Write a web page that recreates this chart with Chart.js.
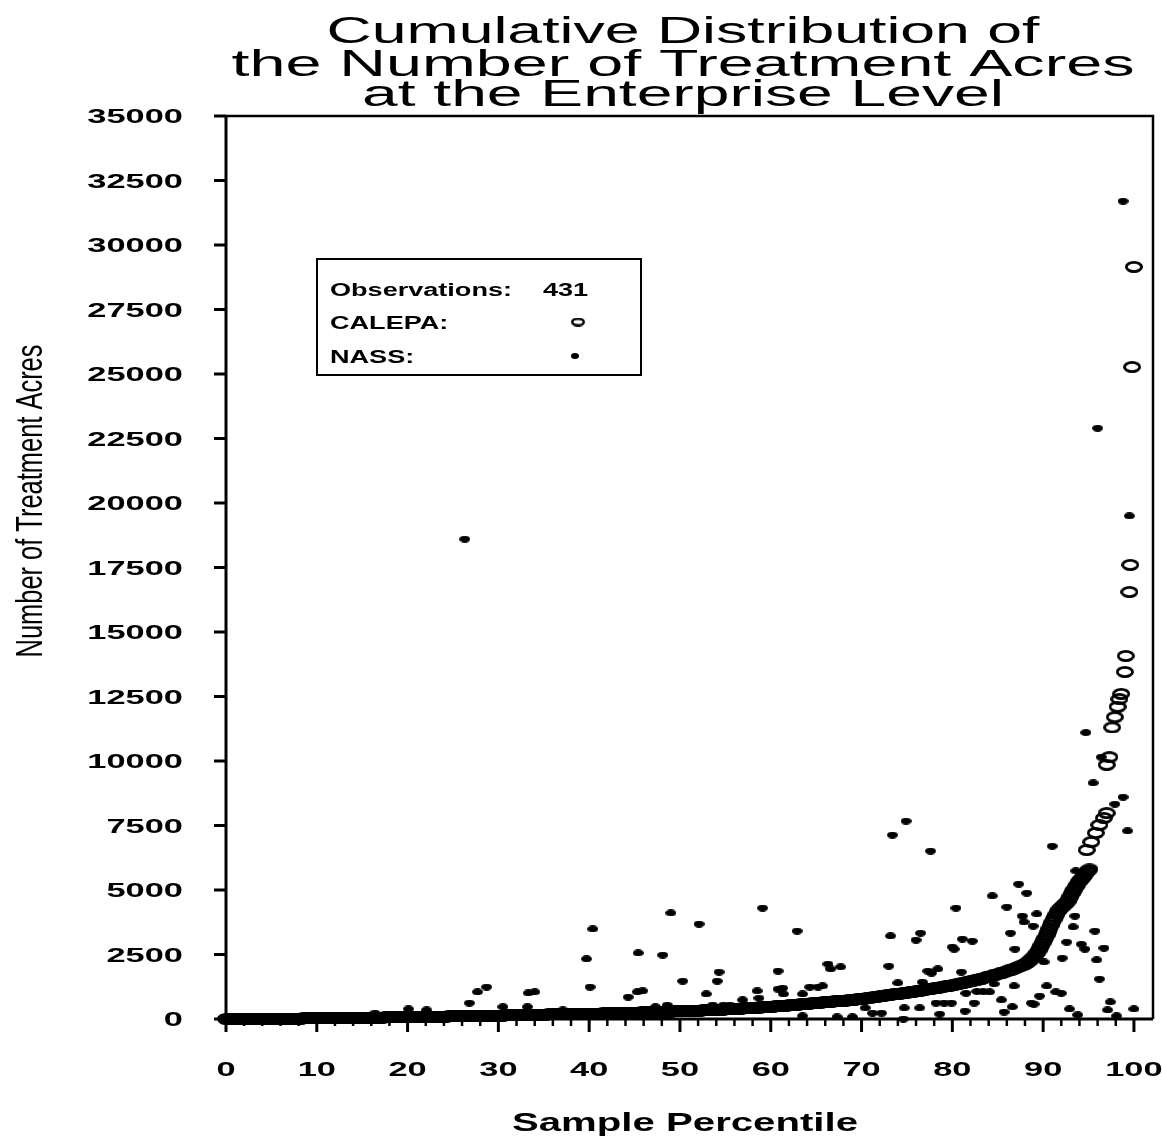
<!DOCTYPE html>
<html>
<head>
<meta charset="utf-8">
<script src="https://cdn.jsdelivr.net/npm/chart.js@4.4.1/dist/chart.umd.min.js"></script>
<style>
  html, body { margin: 0; padding: 0; background: #fff; }
  canvas { display: block; }
</style>
</head>
<body>
<canvas id="cdf" width="1162" height="1137"></canvas>
<script>
// ---- data ----
const titleLines = ["Cumulative Distribution of", "the Number of Treatment Acres", "at the Enterprise Level"];
const xTitle = "Sample Percentile";
const yTitle = "Number of Treatment Acres";
const observations = 431;
const legendRows = ["Observations:", "CALEPA:", "NASS:"];

const xTicks = [0, 10, 20, 30, 40, 50, 60, 70, 80, 90, 100];
const xMinorStep = 2;
const yTicks = [0, 2500, 5000, 7500, 10000, 12500, 15000, 17500, 20000, 22500, 25000, 27500, 30000, 32500, 35000];

// CALEPA (sorted) acres, one value every quarter percentile from 0 to 87.75
const calepaBandStep = 0.25;
const calepaBandAcres = [
  0, 0, 0, 0,   0, 0, 0, 0,   1, 2, 3, 4,   5, 6, 7, 8,   9, 10, 10, 11,
  12, 12, 13, 13,   14, 14, 15, 15,   16, 16, 17, 17,   18, 19, 20, 21,   22, 23, 24, 24,
  25, 26, 27, 28,   29, 30, 31, 32,   33, 34, 35, 36,   37, 38, 39, 40,   41, 42, 43, 44,
  45, 46, 47, 48,   50, 51, 53, 54,   56, 57, 59, 60,   61, 62, 63, 64,   65, 66, 68, 69,
  70, 71, 73, 74,   76, 77, 79, 80,   82, 83, 85, 86,   88, 89, 91, 92,   94, 95, 97, 98,
  100, 101, 103, 104,   106, 107, 109, 110,   112, 113, 115, 116,   118, 119, 121, 122,   124, 125, 127, 128,
  130, 133, 135, 138,   140, 143, 145, 148,   150, 153, 155, 158,   160, 161, 163, 164,   166, 168, 170, 171,
  173, 174, 176, 178,   180, 181, 183, 184,   186, 188, 190, 191,   193, 194, 196, 197,   198, 199, 200, 201,
  203, 204, 206, 208,   210, 212, 214, 216,   218, 220, 222, 224,   226, 228, 230, 232,   235, 237, 240, 242,
  245, 247, 250, 252,   255, 257, 260, 262,   265, 267, 270, 273,   276, 279, 282, 285,   288, 291, 294, 297,
  300, 303, 306, 309,   312, 315, 318, 321,   325, 328, 332, 336,   340, 344, 348, 352,   356, 360, 364, 368,
  372, 376, 380, 385,   390, 395, 400, 405,   410, 415, 420, 425,   430, 435, 440, 445,   450, 456, 462, 468,
  475, 481, 488, 494,   500, 507, 515, 522,   530, 537, 545, 552,   560, 567, 575, 582,   590, 597, 605, 612,
  620, 627, 635, 642,   650, 657, 665, 672,   680, 687, 695, 702,   710, 717, 725, 732,   740, 750, 760, 770,
  780, 790, 800, 812,   825, 837, 850, 862,   875, 887, 900, 912,   925, 937, 950, 962,   975, 987, 1000, 1012,
  1025, 1037, 1050, 1062,   1075, 1087, 1100, 1115,   1130, 1145, 1160, 1175,   1190, 1205, 1220, 1235,   1250, 1265, 1280, 1295,
  1310, 1327, 1345, 1362,   1380, 1400, 1420, 1440,   1460, 1480, 1500, 1522,   1545, 1567, 1590, 1615,   1640, 1665, 1690, 1715,
  1740, 1765, 1790, 1820,   1850, 1880, 1910, 1945,   1980, 2015, 2050, 2085
];
// CALEPA upper tail: [percentile, acres]
const calepaTail = [
  [88, 2120], [88.2, 2170], [88.4, 2220], [88.6, 2280], [88.8, 2350], [89, 2420], [89.2, 2500],
  [89.35, 2570], [89.5, 2650], [89.65, 2750], [89.8, 2850], [89.95, 2950], [90.1, 3050], [90.25, 3150],
  [90.4, 3250], [90.55, 3370], [90.7, 3500], [90.85, 3620], [91.0, 3750], [91.15, 3850], [91.3, 3950],
  [91.45, 4050], [91.6, 4150], [91.8, 4250], [91.95, 4300], [92.1, 4350], [92.25, 4400], [92.4, 4450],
  [92.55, 4500], [92.7, 4550], [92.85, 4650], [93.0, 4750], [93.15, 4850], [93.3, 4950], [93.45, 5030],
  [93.6, 5120], [93.75, 5210], [93.9, 5300], [94.05, 5360], [94.2, 5420], [94.35, 5480], [94.5, 5550],
  [94.65, 5620], [94.8, 5700], [94.95, 5750], [95.1, 5800],
  [94.8, 6550], [95.3, 6860], [95.8, 7210], [96.2, 7520], [96.7, 7790], [97.0, 7980],
  [97.0, 9850], [97.3, 10150], [97.6, 11300], [97.9, 11700], [98.2, 12100], [98.4, 12400], [98.6, 12600],
  [99.0, 13450], [99.1, 14070], [99.5, 16550], [99.6, 17600], [99.8, 25270], [100, 29150]
];
// NASS: [percentile, acres]
const nassPoints = [
  [98.8, 31700], [96.0, 22900], [99.5, 19500], [26.3, 18600], [94.7, 11100], [96.4, 10150], [95.5, 9150],
  [98.8, 8600], [97.9, 8330], [99.3, 7290], [74.9, 7670], [73.4, 7130], [77.6, 6510], [91.0, 6700],
  [93.6, 5740], [87.3, 5230], [88.2, 4880], [84.4, 4770], [86.0, 4340], [80.4, 4300], [59.1, 4300],
  [49.0, 4110], [89.3, 4070], [87.7, 3990], [93.5, 3990], [87.9, 3760], [52.1, 3680], [88.9, 3600],
  [93.3, 3570], [40.4, 3490], [62.9, 3410], [95.7, 3410], [86.4, 3330], [76.5, 3330], [73.2, 3220],
  [81.1, 3100], [76.0, 3060], [82.2, 3020], [92.6, 2980], [94.2, 2900], [80.0, 2790], [96.7, 2750],
  [86.9, 2710], [80.2, 2710], [94.6, 2710], [45.4, 2560], [48.1, 2480], [92.1, 2360], [39.7, 2330],
  [95.9, 2290], [90.1, 2210], [66.3, 2130], [73.0, 2050], [67.7, 2020], [66.6, 1940], [78.4, 1940],
  [60.8, 1860], [77.3, 1860], [54.3, 1820], [81.0, 1820], [77.7, 1780], [96.2, 1550], [54.1, 1470],
  [50.3, 1470], [76.7, 1430], [74.0, 1400], [84.6, 1360], [86.8, 1280], [90.4, 1280], [65.7, 1280],
  [28.7, 1240], [40.1, 1240], [64.3, 1240], [65.2, 1240], [61.3, 1200], [60.8, 1160], [27.7, 1050],
  [58.5, 1090], [45.9, 1090], [82.7, 1070], [83.4, 1060], [84.1, 1050], [91.4, 1050], [92.0, 1000],
  [81.5, 1000], [34.0, 1050], [45.3, 1050], [33.3, 1010], [52.9, 970], [61.4, 970], [63.5, 970],
  [89.6, 890], [44.3, 850], [58.7, 810], [56.9, 740], [85.4, 740], [97.4, 660], [88.7, 620], [89.0, 580],
  [78.2, 620], [79.1, 620], [79.9, 620], [82.4, 620], [26.8, 620], [47.3, 470], [48.6, 540], [53.6, 540],
  [54.8, 540], [55.5, 540], [30.5, 470], [33.2, 470], [86.6, 470], [74.7, 430], [76.4, 430], [70.4, 430],
  [20.1, 390], [100.0, 390], [92.9, 390], [37.1, 350], [22.1, 350], [97.1, 350], [85.7, 270], [81.4, 310],
  [16.4, 230], [71.2, 230], [72.2, 230], [78.6, 190], [93.8, 160], [63.5, 120], [98.1, 120], [67.3, 80],
  [69.0, 80], [74.6, 0]
];

// ---- marker images (the original plot is stretched horizontally) ----
function ellipseMarker(w, h, filled, lw){
  const c = document.createElement("canvas");
  c.width = w; c.height = h;
  const g = c.getContext("2d");
  g.beginPath();
  if (filled) {
    g.ellipse(w/2, h/2, w/2, h/2, 0, 0, Math.PI*2);
    g.fillStyle = "#000"; g.fill();
  } else {
    g.ellipse(w/2, h/2, w/2 - lw/2, h/2 - lw/2, 0, 0, Math.PI*2);
    g.lineWidth = lw; g.strokeStyle = "#000"; g.stroke();
  }
  return c;
}
const ringImg = ellipseMarker(18, 12, false, 2.8);
const dotImg = ellipseMarker(11, 7, true, 0);
const ringLegend = ellipseMarker(14, 9, false, 2.4);
const dotLegend = ellipseMarker(8, 6, true, 0);

const calepaData = calepaBandAcres.map((v, i) => ({ x: i * calepaBandStep, y: v }))
  .concat(calepaTail.map(p => ({ x: p[0], y: p[1] })));
const nassData = nassPoints.map(p => ({ x: p[0], y: p[1] }));

// ---- text helpers ----
const SANS = "'Liberation Sans', Arial, Helvetica, sans-serif";
function wide(ctx, text, x, y, font, sx, align){
  ctx.save();
  ctx.font = font; ctx.textAlign = align || "left"; ctx.textBaseline = "alphabetic";
  ctx.fillStyle = "#000";
  ctx.translate(x, y); ctx.scale(sx, 1);
  ctx.fillText(text, 0, 0);
  ctx.restore();
}
function fitScale(ctx, text, font, width){
  ctx.save(); ctx.font = font;
  const w = ctx.measureText(text).width;
  ctx.restore();
  return width / w;
}

const frame = {
  id: "frame",
  beforeDatasetsDraw(chart){
    const { ctx, chartArea: a, scales: { x, y } } = chart;
    ctx.save();
    ctx.strokeStyle = "#000";
    ctx.lineCap = "butt";
    // box
    ctx.lineWidth = 2.5;
    ctx.beginPath();
    ctx.moveTo(a.left, a.top); ctx.lineTo(a.right, a.top); ctx.lineTo(a.right, a.bottom);
    ctx.stroke();
    ctx.lineWidth = 3;
    ctx.beginPath();
    ctx.moveTo(a.left, a.top); ctx.lineTo(a.left, a.bottom); ctx.lineTo(a.right, a.bottom);
    ctx.stroke();
    // y ticks (outward, left)
    yTicks.forEach(v => {
      const py = y.getPixelForValue(v);
      ctx.beginPath(); ctx.moveTo(a.left - 12, py); ctx.lineTo(a.left, py); ctx.stroke();
    });
    // x ticks (major + minor, downward)
    for (let v = 0; v <= xTicks[xTicks.length - 1]; v += xMinorStep) {
      const px = x.getPixelForValue(v);
      const major = xTicks.includes(v);
      ctx.lineWidth = major ? 3 : 2.5;
      ctx.beginPath(); ctx.moveTo(px, a.bottom); ctx.lineTo(px, a.bottom + (major ? 13 : 7)); ctx.stroke();
    }
    ctx.restore();
  },
  afterDraw(chart){
    const { ctx, scales: { x, y } } = chart;
    // tick labels
    const tickFont = "bold 20px " + SANS;
    yTicks.forEach(v => wide(ctx, String(v), 183, y.getPixelForValue(v) + 7, tickFont, 1.72, "right"));
    xTicks.forEach(v => wide(ctx, String(v), x.getPixelForValue(v), 1076, tickFont, 1.72, "center"));

    // title
    const tFont = "37px " + SANS;
    const tWidths = [713, 903, 642];
    const tBase = [43, 76, 106];
    titleLines.forEach((t, i) => wide(ctx, t, 683, tBase[i], tFont, fitScale(ctx, t, tFont, tWidths[i]), "center"));

    // x axis title
    const xf = "bold 25px " + SANS;
    wide(ctx, xTitle, 685, 1131, xf, fitScale(ctx, xTitle, xf, 346), "center");

    // y axis title (rotated, glyphs stretched across)
    const yf = "25px " + SANS;
    const len = fitScale(ctx, yTitle, yf, 313);
    ctx.save();
    ctx.font = yf; ctx.fillStyle = "#000"; ctx.textAlign = "center"; ctx.textBaseline = "alphabetic";
    ctx.translate(42, 501); ctx.rotate(-Math.PI/2); ctx.scale(len, 1.5);
    ctx.fillText(yTitle, 0, 0);
    ctx.restore();

    // legend box
    ctx.save();
    ctx.strokeStyle = "#000"; ctx.lineWidth = 2;
    ctx.strokeRect(317, 259, 324, 116);
    ctx.restore();
    const lf = "bold 18px " + SANS;
    const ls = fitScale(ctx, legendRows[0], lf, 182);
    const rowY = [296, 329, 363];
    legendRows.forEach((t, i) => wide(ctx, t, 330, rowY[i], lf, ls, "left"));
    wide(ctx, String(observations), 543, rowY[0], lf, ls, "left");
    ctx.drawImage(ringLegend, 578 - ringLegend.width/2, 322 - ringLegend.height/2);
    ctx.drawImage(dotLegend, 575 - dotLegend.width/2, 356 - dotLegend.height/2);
  }
};

new Chart(document.getElementById("cdf"), {
  type: "scatter",
  data: {
    datasets: [
      { label: "NASS", data: nassData, pointStyle: dotImg, pointRadius: 5, clip: false, order: 1 },
      { label: "CALEPA", data: calepaData, pointStyle: ringImg, pointRadius: 8, clip: false, order: 2 }
    ]
  },
  options: {
    responsive: false,
    animation: false,
    events: [],
    layout: { padding: { left: 226, right: 8, top: 116, bottom: 118 } },
    plugins: { legend: { display: false }, title: { display: false }, tooltip: { enabled: false } },
    scales: {
      x: { type: "linear", display: false, min: 0, max: 102.1 },
      y: { type: "linear", display: false, min: 0, max: 35000 }
    }
  },
  plugins: [frame]
});
</script>
</body>
</html>
